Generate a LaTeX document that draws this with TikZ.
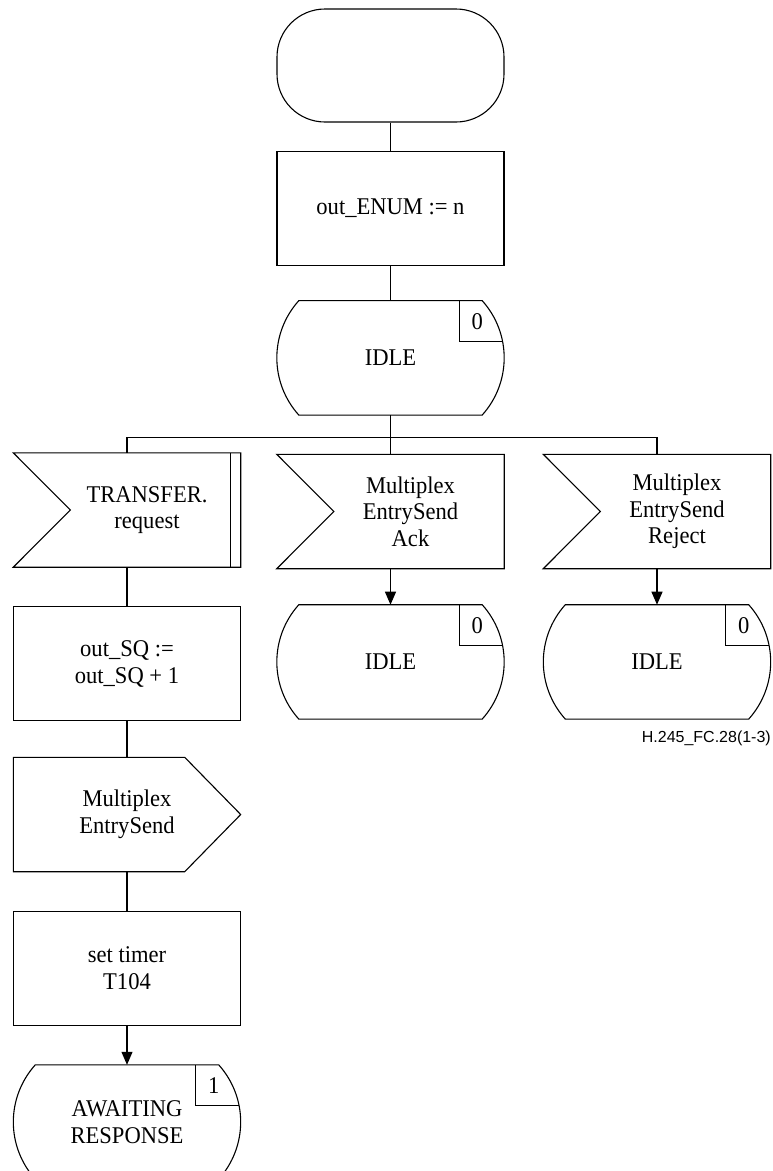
\documentclass[tikz,border=0pt]{standalone}
\usepackage{fontspec}
\setmainfont{Liberation Serif}[FakeStretch=0.94]
\newfontfamily\figsans{Liberation Sans}
\usetikzlibrary{arrows.meta,positioning}

\begin{document}
\begin{tikzpicture}[
    x=1pt, y=1pt,
    font=\fontsize{24}{26.7}\selectfont,
    every node/.style={inner sep=0pt},
    box/.style={draw, line width=1.1pt, minimum width=227pt, minimum height=114pt, align=center},
    shp/.style={minimum width=227pt, minimum height=114pt, align=center},
    line/.style={line width=1.1pt},
    arr/.style={line width=1.1pt, -{Triangle[length=13pt,width=11pt]}},
    txt/.style={align=center, anchor=center, xshift=20pt}
]
\useasboundingbox (0,0) rectangle (773,-1171);

% main column
\node[box, rounded corners=48pt, minimum height=113pt] (start) at (390.5,-65.5) {};
\node[box, below=28pt of start] (enum) {out\_ENUM := n};
\node[shp, below=35pt of enum] (idle) {IDLE};
\coordinate[below=22pt of idle] (fork);

% inputs
\node[shp, label={[txt]center:{TRANSFER.\\request}}] (transfer) at (127,-510) {};
\node[shp, label={[txt]center:{Multiplex\\EntrySend\\Ack}}] (ack) at (390.5,-511.5) {};
\node[shp, label={[txt]center:{Multiplex\\EntrySend\\Reject}}] (reject) at (657,-511.5) {};

\node[shp, below=36pt of ack] (idleB) {IDLE};
\node[shp, below=36pt of reject] (idleC) {IDLE};

% left column
\node[box, below=39pt of transfer] (sq) {out\_SQ :=\\out\_SQ + 1};
\node[shp, below=36pt of sq] (send) {Multiplex\\EntrySend};
\node[box, below=39pt of send] (timer) {set timer\\T104};
\node[shp, below=39pt of timer] (wait) {AWAITING\\RESPONSE};

% state symbols
\foreach \n/\d in {idle/0, idleB/0, idleC/0, wait/1} {
  \draw[line] ([xshift=22pt]\n.north west) -- ([xshift=-22pt]\n.north east)
    .. controls +(29.3,-32.7) and +(29.3,32.7) .. ([xshift=-22pt]\n.south east)
    -- ([xshift=22pt]\n.south west)
    .. controls +(-29.3,32.7) and +(-29.3,-32.7) .. ([xshift=22pt]\n.north west) -- cycle;
  \draw[line] ([xshift=-45pt]\n.north east) |- ([xshift=-1.5pt,yshift=-41pt]\n.north east);
  \node (\n-num) at ([xshift=-27pt,yshift=-21pt]\n.north east) {\d};
}

% input and output symbols
\foreach \n in {transfer, ack, reject}
  \draw[line] (\n.north west) -- (\n.north east) -- (\n.south east) -- (\n.south west) -- ([xshift=57pt]\n.west) -- cycle;
\draw[line] ([xshift=-10pt]transfer.north east) -- ([xshift=-10pt]transfer.south east);
\draw[line] (send.north west) -- ([xshift=-56pt]send.north east) -- (send.east) -- ([xshift=-56pt]send.south east) -- (send.south west) -- cycle;

% connectors
\draw[line] (start.south) -- (enum.north);
\draw[line] (enum.south) -- (idle.north);
\draw[line] (idle.south) -- (ack.north);
\draw[line] (transfer.north) |- (fork) -| (reject.north);
\draw[arr] (ack.south) -- (idleB.north);
\draw[arr] (reject.south) -- (idleC.north);
\draw[line] (transfer.south) -- (sq.north);
\draw[line] (sq.south) -- (send.north);
\draw[line] (send.south) -- (timer.north);
\draw[arr] (timer.south) -- (wait.north);

\node[font=\figsans\fontsize{16}{19}\selectfont, anchor=east] (figid) at (771,-738) {H.245\_FC.28(1-3)};

\end{tikzpicture}
\end{document}
